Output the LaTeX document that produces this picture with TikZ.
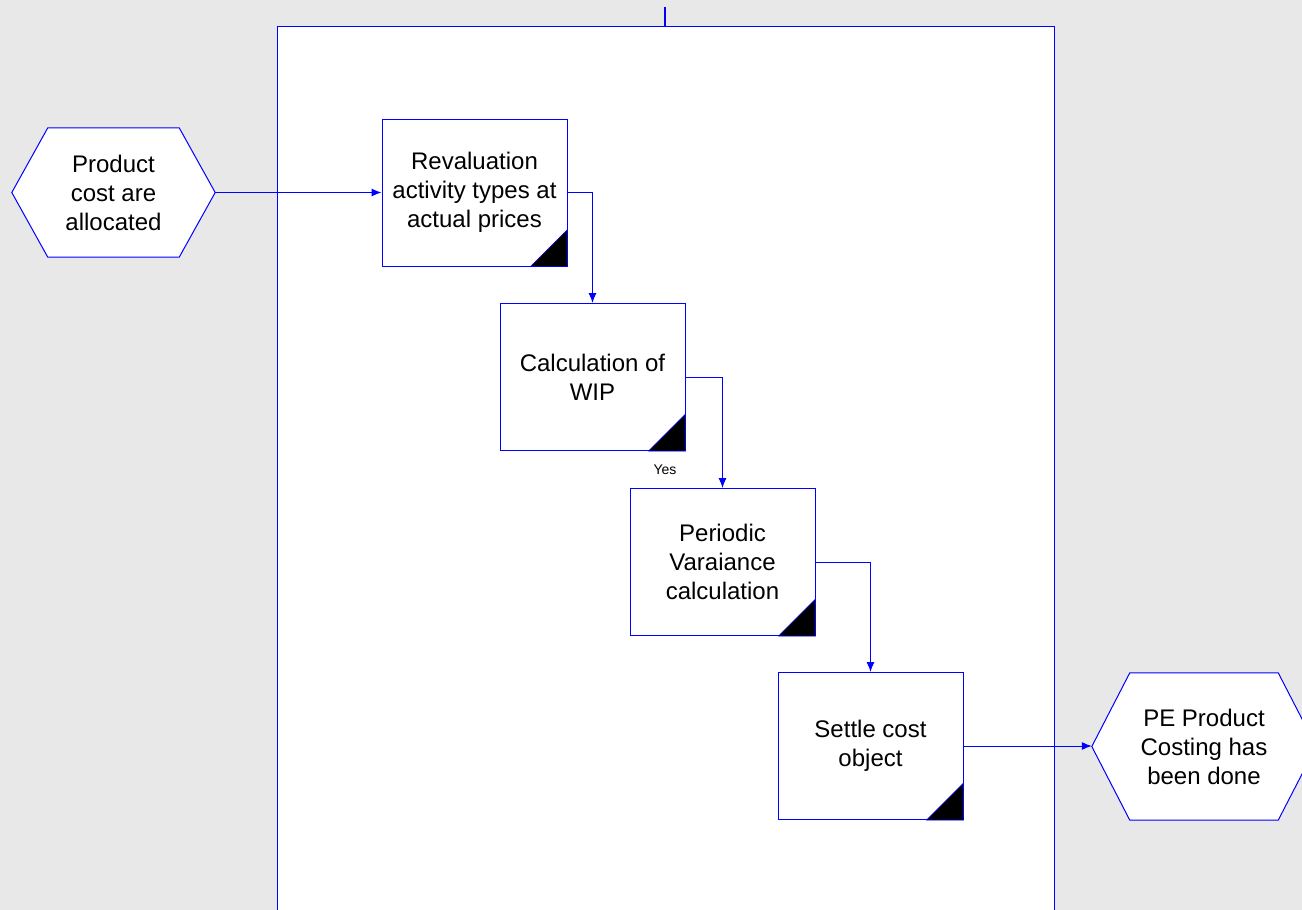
\documentclass[tikz,border=0pt]{standalone}
\usepackage{fontspec}
\setmainfont{Liberation Sans}
\usetikzlibrary{arrows.meta,calc,backgrounds}
\definecolor{flowblue}{RGB}{0,0,255}
\definecolor{canvasgray}{RGB}{232,232,232}
\begin{document}
\begin{tikzpicture}[x=1pt,y=-1pt,
  every node/.style={font=\fontsize{24}{29}\selectfont},
  task/.style={draw=flowblue, fill=white, line width=1pt,
    minimum width=185pt, minimum height=147pt, align=center, inner sep=0pt},
  eventbox/.style={minimum width=#1, align=center, inner sep=0pt},
  hexline/.style={draw=flowblue, fill=white, line width=1pt},
  flow/.style={draw=flowblue, line width=1pt, -{Latex[length=10pt,width=8pt]}},
  marker/.style={fill=black, draw=flowblue, line width=0.6pt},
  smalllabel/.style={font=\fontsize{14}{16}\selectfont}
]
\useasboundingbox (0,0) rectangle (1302,910);

% events (hexagon outlines added on the background layer)
\node[eventbox=203pt, minimum height=129pt] (e1) at (113.5,192.5)
  {Product\\cost are\\allocated};
\node[eventbox=224pt, minimum height=147pt] (e2) at (1204,746.5)
  {PE Product\\Costing has\\been done};

% functions
\node[task] (t1) at (474.5,192.5) {Revaluation\\activity types at\\actual prices};
\node[task] (t2) at (592.5,377) {Calculation of\\WIP};
\node[task] (t3) at (722.5,562) {Periodic\\Varaiance\\calculation};
\node[task] (t4) at (870.5,746) {Settle cost\\object};

% corner markers of the functions
\foreach \t in {t1,t2,t3,t4}
  \draw[marker] (\t.south east) -- ++(-37,0) -- ++(37,-37) -- cycle;

% control flow
\draw[flow] (e1.east) -- (t1.west);
\draw[flow] (t1.east) -| (t2.north);
\draw[flow] (t2.east) -| (t3.north);
\draw[flow] (t3.east) -| (t4.north);
\draw[flow] (t4.east) -- (e2.west |- t4.east);

\node[smalllabel] (yes) at (665,470) {Yes};

\coordinate (lanetop) at (665,26);
\coordinate (lanehandle) at (665,7);

\begin{scope}[on background layer]
  \fill[canvasgray] (0,0) rectangle (1302,910);
  \draw[draw=flowblue, fill=white, line width=1pt] (277,26) rectangle (1054,930);
  \draw[flowblue, line width=1.8pt] (lanehandle) -- (lanetop);
  \draw[hexline] (e1.west) -- ($(e1.north west)+(36,0)$) -- ($(e1.north east)+(-36,0)$)
    -- (e1.east) -- ($(e1.south east)+(-36,0)$) -- ($(e1.south west)+(36,0)$) -- cycle;
  \draw[hexline] (e2.west) -- ($(e2.north west)+(38,0)$) -- ($(e2.north east)+(-38,0)$)
    -- (e2.east) -- ($(e2.south east)+(-38,0)$) -- ($(e2.south west)+(38,0)$) -- cycle;
\end{scope}
\end{tikzpicture}
\end{document}
